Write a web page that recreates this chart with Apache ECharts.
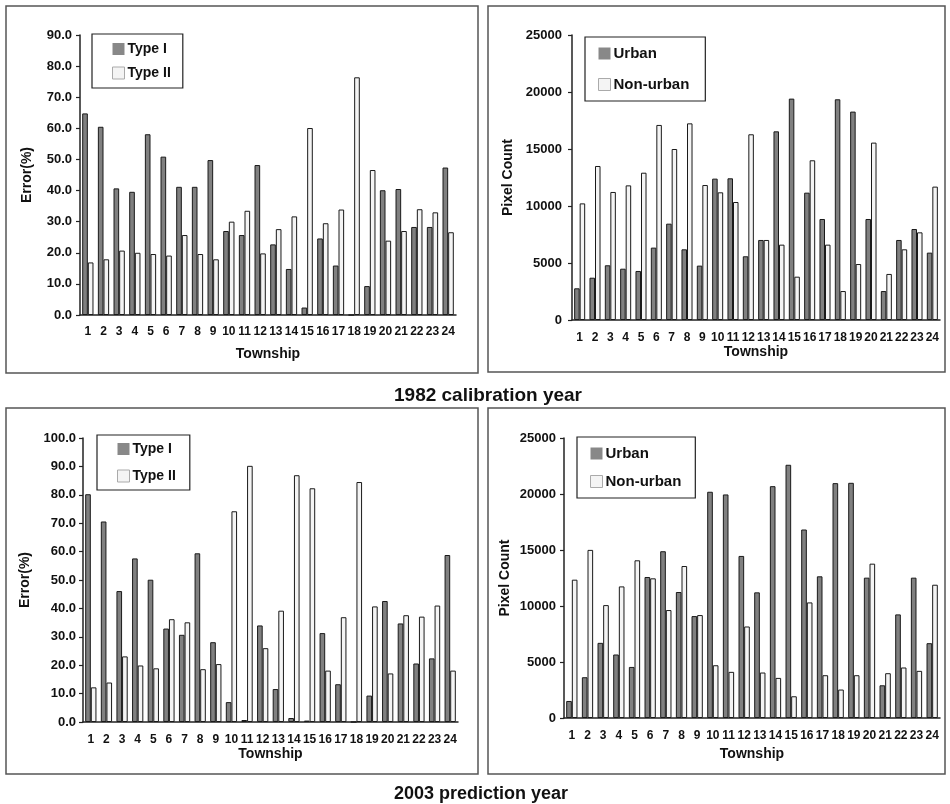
<!DOCTYPE html>
<html>
<head>
<meta charset="utf-8">
<script src="https://cdn.jsdelivr.net/npm/echarts@6/dist/echarts.min.js"></script>
<style>
html,body{margin:0;padding:0;background:#fff;}
#chart{width:950px;height:804px;}
</style>
</head>
<body>
<div id="chart"></div>
<script>
const townships = ['1','2','3','4','5','6','7','8','9','10','11','12','13','14','15','16','17','18','19','20','21','22','23','24'];

const errorTicks = [0,10,20,30,40,50,60,70,80,90,100];
const pixelTicks = [0,5000,10000,15000,20000,25000];

const typeI_1982  = [64.8,60.5,40.7,39.6,58.1,50.9,41.2,41.2,49.8,27.0,25.7,48.2,22.7,14.8,2.4,24.6,15.9,0,9.3,40.1,40.5,28.3,28.3,47.4];
const typeII_1982 = [16.9,17.9,20.7,20.0,19.6,19.1,25.7,19.6,17.9,30.0,33.5,19.8,27.6,31.7,60.1,29.5,33.9,76.4,46.6,23.9,27.0,34.0,33.0,26.6];

const urban_1982    = [2780,3710,4800,4500,4300,6350,8450,6200,4770,12400,12430,5590,7020,16550,19420,11170,8860,19360,18280,8860,2540,7020,7980,5910];
const nonUrban_1982 = [10230,13510,11230,11810,12920,17110,15000,17250,11840,11200,10350,16290,7020,6610,3800,14010,6610,2540,4910,15560,4040,6200,7690,11700];

const typeI_2003  = [80.2,70.6,46.1,57.6,50.1,32.9,30.7,59.4,28.1,7.0,0.7,34.0,11.6,1.4,0.5,31.3,13.3,0,9.3,42.6,34.7,20.6,22.4,58.8];
const typeII_2003 = [12.2,13.9,23.1,19.9,18.9,36.2,35.1,18.6,20.4,74.2,90.2,26.0,39.2,86.9,82.3,18.1,36.9,84.5,40.7,17.1,37.6,37.1,41.0,18.1];

const urban_2003    = [1520,3640,6710,5670,4560,12590,14890,11250,9100,20200,19960,14470,11220,20700,22610,16830,12650,20970,21000,12530,2920,9250,12530,6680];
const nonUrban_2003 = [12350,15010,10080,11750,14080,12470,9640,13570,9190,4710,4120,8170,4060,3580,1940,10320,3820,2540,3820,13780,4000,4510,4210,11900];

const FONT = '"Liberation Sans", Arial, sans-serif';
const darkStyle  = {color:'#808080', borderColor:'#1a1a1a', borderWidth:1};
const lightStyle = {color:'#f4f4f4', borderColor:'#1a1a1a', borderWidth:1};

const grids = [
  {left:80,  top:35,  width:376, height:280},
  {left:572, top:35,  width:368, height:285},
  {left:83,  top:438, width:375, height:284},
  {left:564, top:438, width:376, height:280}
];

function xAxis(i, nameGap, labelMargin){
  return {
    type:'category', gridIndex:i, data:townships,
    name:'Township', nameLocation:'middle', nameGap:nameGap,
    nameTextStyle:{fontFamily:FONT, fontWeight:'bold', fontSize:14, color:'#111'},
    axisLine:{lineStyle:{color:'#222', width:1.5}},
    axisTick:{length:4, lineStyle:{color:'#222', width:1.2}},
    axisLabel:{interval:0, margin:labelMargin, fontFamily:FONT, fontWeight:'bold', fontSize:12, color:'#111'},
    splitLine:{show:false}
  };
}
function yAxis(i, ticks, name, nameGap, labelMargin, decimals){
  return {
    type:'value', gridIndex:i, min:ticks[0], max:ticks[ticks.length-1], interval:ticks[1]-ticks[0],
    name:name, nameLocation:'middle', nameGap:nameGap, nameRotate:90,
    nameTextStyle:{fontFamily:FONT, fontWeight:'bold', fontSize:14, color:'#111'},
    axisLine:{show:true, lineStyle:{color:'#222', width:1.5}},
    axisTick:{show:true, length:4, lineStyle:{color:'#222', width:1.2}},
    axisLabel:{margin:labelMargin, fontFamily:FONT, fontWeight:'bold', fontSize:13, color:'#111',
      formatter: v => decimals ? v.toFixed(1) : String(v)},
    splitLine:{show:false}
  };
}
function bar(name, data, i, style){
  return {
    type:'bar', name:name, data:data, xAxisIndex:i, yAxisIndex:i,
    itemStyle:style, barGap:'0%', barCategoryGap:'28%', silent:true, animation:false
  };
}
function legend(names, left, top, padding, gap, fontSize){
  return {
    orient:'vertical', left:left, top:top, padding:padding, itemGap:gap,
    itemWidth:12, itemHeight:12, icon:'rect',
    borderColor:'#222', borderWidth:1.2, backgroundColor:'#fff',
    textStyle:{fontFamily:FONT, fontWeight:'bold', fontSize:fontSize, color:'#111', padding:[0,0,0,-2]},
    selectedMode:false,
    data:[
      {name:names[0], itemStyle:{color:'#888', borderWidth:0}},
      {name:names[1], itemStyle:{color:'#f4f4f4', borderColor:'#aaa', borderWidth:1}}
    ]
  };
}

const frameStyle = {fill:'none', stroke:'#555', lineWidth:1.5};

const option = {
  animation:false,
  backgroundColor:'#fff',
  title:[
    {text:'1982 calibration year', left:483, top:381, textAlign:'center',
     textStyle:{fontFamily:FONT, fontWeight:'bold', fontSize:19, color:'#111'}},
    {text:'2003 prediction year', left:476, top:780, textAlign:'center',
     textStyle:{fontFamily:FONT, fontWeight:'bold', fontSize:18, color:'#111'}}
  ],
  grid:grids,
  xAxis:[xAxis(0,32,11), xAxis(1,25,12), xAxis(2,25,12), xAxis(3,29,12)],
  yAxis:[
    yAxis(0, errorTicks.slice(0,10), 'Error(%)', 46, 8, true),
    yAxis(1, pixelTicks, 'Pixel Count', 57, 10, false),
    yAxis(2, errorTicks, 'Error(%)', 51, 7, true),
    yAxis(3, pixelTicks, 'Pixel Count', 52, 8, false)
  ],
  legend:[
    legend(['Type I','Type II'], 92, 34, [8,12,8,20], 10, 14),
    legend(['Urban','Non-urban'], 585, 37, [9,16,9,13], 16, 15),
    legend(['Type I','Type II'], 97, 435, [7,14,7,20], 13, 14),
    legend(['Urban','Non-urban'], 577, 437, [9,14,9,13], 13, 15)
  ],
  series:[
    bar('Type I', typeI_1982, 0, darkStyle),
    bar('Type II', typeII_1982, 0, lightStyle),
    bar('Urban', urban_1982, 1, darkStyle),
    bar('Non-urban', nonUrban_1982, 1, lightStyle),
    bar('Type I', typeI_2003, 2, darkStyle),
    bar('Type II', typeII_2003, 2, lightStyle),
    bar('Urban', urban_2003, 3, darkStyle),
    bar('Non-urban', nonUrban_2003, 3, lightStyle)
  ],
  graphic:[
    {type:'rect', shape:{x:6, y:6, width:472, height:367}, style:frameStyle, silent:true, z:-1},
    {type:'rect', shape:{x:488, y:6, width:457, height:366}, style:frameStyle, silent:true, z:-1},
    {type:'rect', shape:{x:6, y:408, width:472, height:366}, style:frameStyle, silent:true, z:-1},
    {type:'rect', shape:{x:488, y:408, width:457, height:366}, style:frameStyle, silent:true, z:-1}
  ]
};

const chart = echarts.init(document.getElementById('chart'), null, {renderer:'canvas'});
chart.setOption(option);
</script>
</body>
</html>
